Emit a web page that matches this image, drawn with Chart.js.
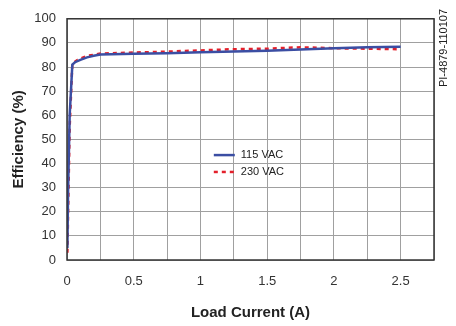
<!DOCTYPE html>
<html>
<head>
<meta charset="utf-8">
<script src="https://cdn.jsdelivr.net/npm/chart.js@4.4.1/dist/chart.umd.min.js"></script>
<style>
  body { margin: 0; background: #fff; }
  #wrap { width: 456px; height: 326px; position: relative; }
</style>
</head>
<body>
<div id="wrap"><canvas id="chart" width="456" height="326"></canvas></div>
<script>
// efficiency vs load current, two input voltages
const current115 = [0.003, 0.008, 0.02, 0.04, 0.06, 0.1, 0.15, 0.2, 0.25, 0.5, 0.75, 1.0, 1.25, 1.5, 1.75, 2.0, 2.25, 2.5];
const eff115 = [5, 28, 60, 81, 82, 83, 84, 84.7, 85.2, 85.5, 85.7, 86.1, 86.4, 86.8, 87.3, 87.8, 88.2, 88.4];

const current230 = [0.003, 0.01, 0.02, 0.04, 0.08, 0.15, 0.25, 0.5, 0.75, 1.0, 1.25, 1.5, 1.75, 2.0, 2.25, 2.5];
const eff230 = [3, 25, 55, 81.5, 83, 84.6, 85.6, 86.0, 86.4, 86.9, 87.4, 87.6, 88.2, 87.8, 87.6, 87.4];

const seriesNames = ['115 VAC', '230 VAC'];
const xLabelled = [0, 0.5, 1, 1.5, 2, 2.5];

const blue = '#3b4ea3';
const red = '#e3202b';
const fontFamily = '"Liberation Sans", Arial, sans-serif';

function toPoints(xs, ys) {
  return xs.map((x, i) => ({ x: x, y: ys[i] }));
}

// frame round the plot area plus the in-plot legend and drawing number
const extras = {
  id: 'extras',
  afterDatasetsDraw(chart) {
    const ctx = chart.ctx;
    const a = chart.chartArea;
    ctx.save();
    ctx.strokeStyle = '#333';
    ctx.lineWidth = 1.5;
    ctx.strokeRect(a.left, a.top, a.right - a.left, a.bottom - a.top);

    const xs = chart.scales.x, ys = chart.scales.y;
    const lx = xs.getPixelForValue(1.1);
    const rows = [ys.getPixelForValue(43.5), ys.getPixelForValue(36.5)];
    chart.data.datasets.forEach((ds, i) => {
      ctx.beginPath();
      ctx.strokeStyle = ds.borderColor;
      ctx.lineWidth = 2.5;
      ctx.setLineDash(ds.borderDash || []);
      ctx.moveTo(lx, rows[i]);
      ctx.lineTo(lx + 21, rows[i]);
      ctx.stroke();
      ctx.setLineDash([]);
      ctx.fillStyle = '#222';
      ctx.font = '11px ' + fontFamily;
      ctx.textBaseline = 'middle';
      ctx.fillText(ds.label, lx + 27, rows[i]);
    });

    ctx.translate(444, 48);
    ctx.rotate(-Math.PI / 2);
    ctx.font = '11px ' + fontFamily;
    ctx.textAlign = 'center';
    ctx.textBaseline = 'middle';
    ctx.fillStyle = '#222';
    ctx.fillText('PI-4879-110107', 0, 0);
    ctx.restore();
  }
};

new Chart(document.getElementById('chart'), {
  type: 'scatter',
  data: {
    datasets: [
      {
        label: seriesNames[0],
        data: toPoints(current115, eff115),
        showLine: true,
        borderColor: blue,
        backgroundColor: blue,
        borderWidth: 2.5,
        pointRadius: 0,
        tension: 0
      },
      {
        label: seriesNames[1],
        data: toPoints(current230, eff230),
        showLine: true,
        borderColor: red,
        backgroundColor: red,
        borderWidth: 2.5,
        borderDash: [4, 4],
        pointRadius: 0,
        tension: 0
      }
    ]
  },
  options: {
    responsive: false,
    animation: false,
    layout: { padding: { top: 18, right: 22, left: 0, bottom: 0 } },
    plugins: {
      legend: { display: false },
      tooltip: { enabled: false }
    },
    scales: {
      x: {
        type: 'linear',
        min: 0,
        max: 2.75,
        afterFit(scale) { scale.height = 66; },
        afterBuildTicks(scale) {
          const t = [];
          for (let i = 0; i <= 11; i++) t.push({ value: i * 0.25 });
          scale.ticks = t;
        },
        grid: { color: '#a0a0a0', lineWidth: 1, drawTicks: false },
        border: { display: false },
        ticks: {
          padding: 14,
          color: '#333',
          font: { family: fontFamily, size: 13 },
          callback: v => xLabelled.includes(v) ? String(v) : ''
        },
        title: {
          display: true,
          text: 'Load Current (A)',
          color: '#222',
          padding: { top: 0, bottom: 4 },
          font: { family: fontFamily, size: 15, weight: 'bold' }
        }
      },
      y: {
        min: 0,
        max: 100,
        afterFit(scale) { scale.width = 67; },
        grid: { color: '#a0a0a0', lineWidth: 1, drawTicks: false },
        border: { display: false },
        ticks: {
          stepSize: 10,
          padding: 11,
          color: '#333',
          font: { family: fontFamily, size: 13 }
        },
        title: {
          display: true,
          text: 'Efficiency (%)',
          color: '#222',
          padding: { top: 10, bottom: 0 },
          font: { family: fontFamily, size: 15, weight: 'bold' }
        }
      }
    }
  },
  plugins: [extras]
});
</script>
</body>
</html>
